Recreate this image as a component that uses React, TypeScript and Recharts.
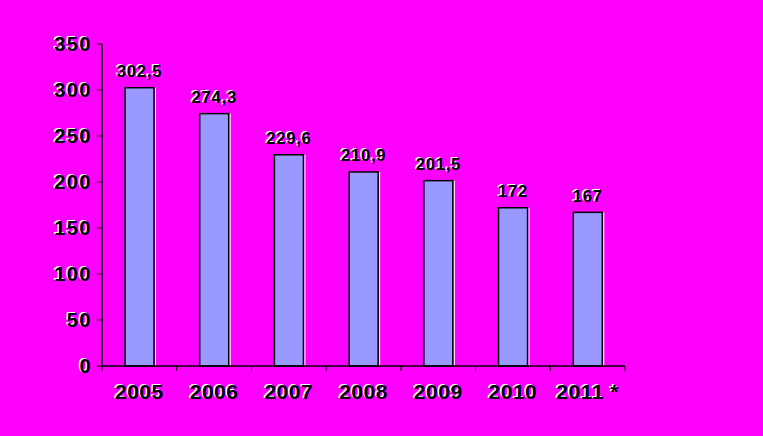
import React from 'react';
import { BarChart, Bar, XAxis, YAxis, LabelList } from 'recharts';

// values
const years = ['2005', '2006', '2007', '2008', '2009', '2010', '2011 *'];
const values = [302.5, 274.3, 229.6, 210.9, 201.5, 172, 167];
const yTicks = [0, 50, 100, 150, 200, 250, 300, 350];

const data = years.map((year, i) => ({ year, value: values[i] }));

const W = 763;
const H = 436;
const Y_AXIS_W = 60;
const X_AXIS_H = 30;
const margin = { top: 44, right: 138, left: 42, bottom: 40 };
const plotWidth = W - margin.left - Y_AXIS_W - margin.right;
const band = plotWidth / years.length;

const FONT = '"Liberation Sans", Arial, sans-serif';

// black text with a white copy nudged up-left, like the old embossed look
const Embossed = ({ x, y, size, spacing = 0, anchor = 'middle', baseline, children }: any) => (
  <g
    fontFamily={FONT}
    fontWeight="bold"
    fontSize={size}
    letterSpacing={spacing}
    textAnchor={anchor}
    dominantBaseline={baseline}
  >
    <text x={x - 1.5} y={y - 1} fill="#fff">{children}</text>
    <text x={x} y={y} fill="#000">{children}</text>
  </g>
);

const YTick = ({ x, y, payload }: any) => (
  <Embossed x={x} y={y} size={20} spacing={1.5} anchor="end" baseline="central">
    {payload.value}
  </Embossed>
);

const XTick = ({ x, y, payload, index }: any) => {
  const last = index === years.length - 1;
  return (
    <g>
      <line x1={x - band / 2} y1={y} x2={x - band / 2} y2={y + 5} stroke="#000" strokeWidth={1} />
      {last && <line x1={x + band / 2} y1={y} x2={x + band / 2} y2={y + 5} stroke="#000" strokeWidth={1} />}
      <Embossed x={x} y={y + 32.5} size={21} spacing={0.5}>
        {payload.value}
      </Embossed>
    </g>
  );
};

const BarShape = ({ x, y, width, height }: any) => (
  <g>
    <rect x={x} y={y} width={width} height={height} fill="#9999FF" stroke="#000" strokeWidth={1.5} />
    <line x1={x + width + 1.5} y1={y} x2={x + width + 1.5} y2={y + height} stroke="#fff" strokeWidth={1} />
  </g>
);

const ValueLabel = ({ x, y, width, value }: any) => (
  <Embossed x={x + width / 2} y={y - 10.5} size={16.5} spacing={0.8}>
    {String(value).replace('.', ',')}
  </Embossed>
);

export default function App() {
  return (
    <div style={{ position: 'absolute', left: 0, top: 0, width: W, height: H, background: '#FF00FF' }}>
      <BarChart width={W} height={H} data={data} margin={margin}>
        <XAxis
          dataKey="year"
          height={X_AXIS_H}
          axisLine={{ stroke: '#000', strokeWidth: 1.5 }}
          tickLine={false}
          tickSize={0}
          tickMargin={0}
          interval={0}
          tick={<XTick />}
        />
        <YAxis
          width={Y_AXIS_W}
          domain={[0, 350]}
          ticks={yTicks}
          interval={0}
          axisLine={{ stroke: '#000', strokeWidth: 1.5 }}
          tickLine={{ stroke: '#000', strokeWidth: 1 }}
          tickSize={5}
          tickMargin={5}
          tick={<YTick />}
        />
        <Bar dataKey="value" barSize={29} shape={<BarShape />} isAnimationActive={false}>
          <LabelList dataKey="value" content={<ValueLabel />} />
        </Bar>
      </BarChart>
    </div>
  );
}
